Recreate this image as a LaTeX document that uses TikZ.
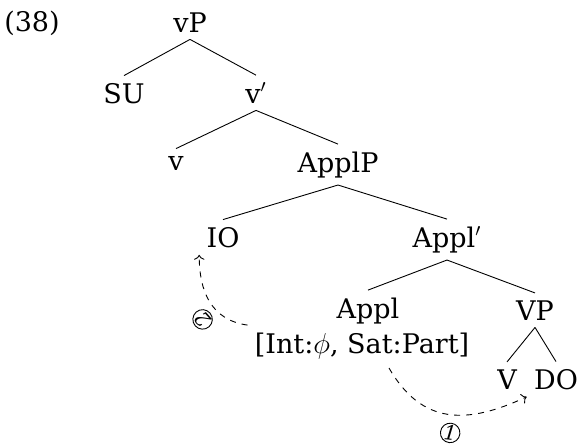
\documentclass[tikz,border=0pt]{standalone}
\usepackage{fontspec}
\setmainfont{DejaVu Serif}
\usetikzlibrary{arrows.meta}

\begin{document}
\begin{tikzpicture}[
        x=0.5pt, y=-0.5pt,
        cat/.style={
            anchor=base,
            inner sep=3.5pt,
            font=\fontsize{13.5}{16}\selectfont},
        branch/.style={line width=0.45pt},
        movearrow/.style={dashed, line width=0.45pt, -{To[length=2.5pt]}},
        stepnum/.style={
            circle,
            draw,
            solid,
            inner sep=0pt,
            minimum size=9.5pt,
            font=\fontsize{10}{10}\selectfont\itshape}
        ]
        \useasboundingbox (0,0) rectangle (582,446);
        \node[cat] (ex) at (32,31) {(38)};
        \node[cat] (vP) at (190,32) {vP};
        \node[cat] (SU) at (124,103) {SU};
        \node[cat] (vbar) at (256,103) {v$'$};
        \node[cat] (v) at (176,170) {v};
        \node[cat] (ApplP) at (338,172) {ApplP};
        \node[cat] (IO) at (223,247) {IO};
        \node[cat] (Applbar) at (447,247) {Appl$'$};
        \node[cat] (Appl) at (368,318) {Appl};
        \node[cat] (ApplF) at (362,353) {[Int:$\phi$, Sat:Part]};
        \node[cat] (VP) at (535,320) {VP};
        \node[cat] (V) at (507,389) {V};
        \node[cat] (DO) at (556,389) {DO};

        \foreach \i/\j in {% mother/daughter
            vP/SU, vP/vbar,
            vbar/v, vbar/ApplP,
            ApplP/IO, ApplP/Applbar,
            Applbar/Appl, Applbar/VP,
            VP/V, VP/DO}
            \draw[branch] (\i.south) -- (\j.north);

        % movement steps
        \draw[movearrow] ([xshift=13.5pt,yshift=-1pt]ApplF.south)
            to[out=-60,in=205,looseness=1.2]
            node[stepnum,pos=0.53,sloped,below=4pt] (one) {1}
            (DO.south west);
        \draw[movearrow] (ApplF.north west)
            to[out=172,in=-90,looseness=1.1]
            node[stepnum,pos=0.4,sloped,allow upside down,above=3pt] (two) {2}
            (IO.south west);
\end{tikzpicture}
\end{document}
